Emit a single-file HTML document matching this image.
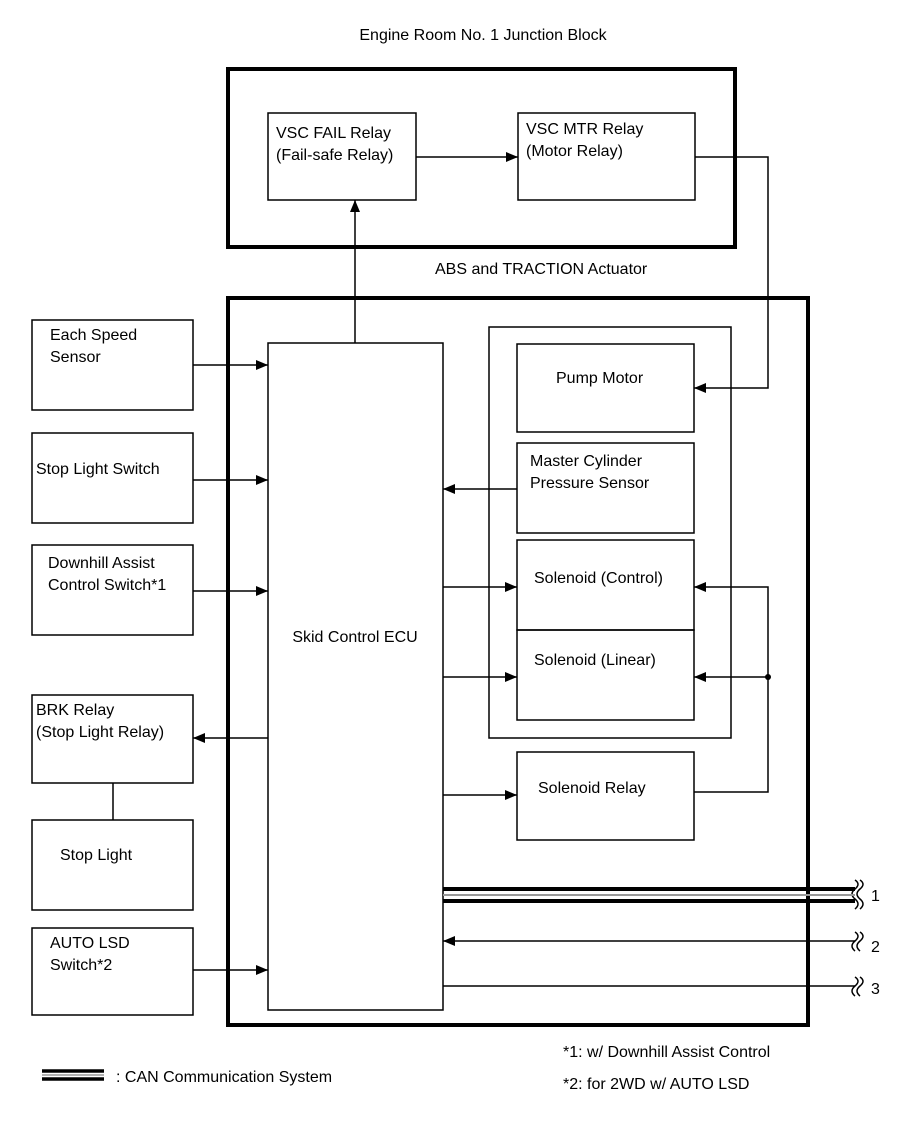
<!DOCTYPE html>
<html><head><style>body{margin:0;background:#fff}svg{display:block}text{font-family:"Liberation Sans",Arial,sans-serif;font-size:16px;fill:#000}</style></head><body>
<svg width="907" height="1122" viewBox="0 0 907 1122" xmlns="http://www.w3.org/2000/svg">
<defs><marker id="a" markerWidth="12" markerHeight="10" refX="12" refY="5" orient="auto" markerUnits="userSpaceOnUse"><path d="M0,0 L12,5 L0,10 z" fill="#000"/></marker></defs>
<g fill="none" stroke="#000">
<rect x="228" y="69" width="507" height="178" stroke-width="4"/>
<rect x="228" y="298" width="580" height="727" stroke-width="4"/>
<g stroke-width="1.5">
<rect x="268" y="113" width="148" height="87"/>
<rect x="518" y="113" width="177" height="87"/>
<rect x="268" y="343" width="175" height="667"/>
<rect x="489" y="327" width="242" height="411"/>
<rect x="517" y="344" width="177" height="88"/>
<rect x="517" y="443" width="177" height="90"/>
<rect x="517" y="540" width="177" height="90"/>
<rect x="517" y="630" width="177" height="90"/>
<rect x="517" y="752" width="177" height="88"/>
<rect x="32" y="320" width="161" height="90"/>
<rect x="32" y="433" width="161" height="90"/>
<rect x="32" y="545" width="161" height="90"/>
<rect x="32" y="695" width="161" height="88"/>
<rect x="32" y="820" width="161" height="90"/>
<rect x="32" y="928" width="161" height="87"/>
<line x1="416" y1="157" x2="518" y2="157" marker-end="url(#a)"/>
<line x1="355" y1="343" x2="355" y2="200" marker-end="url(#a)"/>
<polyline points="695,157 768,157 768,388 694,388" marker-end="url(#a)"/>
<line x1="193" y1="365" x2="268" y2="365" marker-end="url(#a)"/>
<line x1="193" y1="480" x2="268" y2="480" marker-end="url(#a)"/>
<line x1="193" y1="591" x2="268" y2="591" marker-end="url(#a)"/>
<line x1="268" y1="738" x2="193" y2="738" marker-end="url(#a)"/>
<line x1="113" y1="783" x2="113" y2="820"/>
<line x1="193" y1="970" x2="268" y2="970" marker-end="url(#a)"/>
<line x1="517" y1="489" x2="443" y2="489" marker-end="url(#a)"/>
<line x1="443" y1="587" x2="517" y2="587" marker-end="url(#a)"/>
<line x1="443" y1="677" x2="517" y2="677" marker-end="url(#a)"/>
<line x1="443" y1="795" x2="517" y2="795" marker-end="url(#a)"/>
<polyline points="694,792 768,792 768,587 694,587" marker-end="url(#a)"/>
<line x1="768" y1="677" x2="694" y2="677" marker-end="url(#a)"/>
<line x1="855" y1="941" x2="443" y2="941" marker-end="url(#a)"/>
<line x1="443" y1="986" x2="855" y2="986"/>
<path d="M855,880 q6,4 0,9 q-6,5 0,10 q6,5 0,10 M860,880 q6,4 0,9 q-6,5 0,10 q6,5 0,10"/>
<path d="M855,932 q6,4 0,9 q-6,5 0,10 M860,932 q6,4 0,9 q-6,5 0,10"/>
<path d="M855,977 q6,4 0,9 q-6,5 0,10 M860,977 q6,4 0,9 q-6,5 0,10"/>
</g>
<line x1="443" y1="889" x2="855" y2="889" stroke-width="4"/>
<line x1="443" y1="895" x2="855" y2="895" stroke="#999" stroke-width="2"/>
<line x1="443" y1="901" x2="855" y2="901" stroke-width="4"/>
<line x1="42" y1="1071" x2="104" y2="1071" stroke-width="3.5"/>
<line x1="42" y1="1075" x2="104" y2="1075" stroke="#999" stroke-width="1.5"/>
<line x1="42" y1="1079" x2="104" y2="1079" stroke-width="3.5"/>
</g>
<circle cx="768" cy="677" r="3" fill="#000"/>
<text x="483" y="40" text-anchor="middle">Engine Room No. 1 Junction Block</text>
<text x="276" y="138">VSC FAIL Relay</text><text x="276" y="160">(Fail-safe Relay)</text>
<text x="526" y="134">VSC MTR Relay</text><text x="526" y="156">(Motor Relay)</text>
<text x="435" y="274">ABS and TRACTION Actuator</text>
<text x="50" y="340">Each Speed</text><text x="50" y="362">Sensor</text>
<text x="36" y="474">Stop Light Switch</text>
<text x="48" y="568">Downhill Assist</text><text x="48" y="590">Control Switch*1</text>
<text x="36" y="715">BRK Relay</text><text x="36" y="737">(Stop Light Relay)</text>
<text x="60" y="860">Stop Light</text>
<text x="50" y="948">AUTO LSD</text><text x="50" y="970">Switch*2</text>
<text x="355" y="642" text-anchor="middle">Skid Control ECU</text>
<text x="556" y="383">Pump Motor</text>
<text x="530" y="466">Master Cylinder</text><text x="530" y="488">Pressure Sensor</text>
<text x="534" y="583">Solenoid (Control)</text>
<text x="534" y="665">Solenoid (Linear)</text>
<text x="538" y="793">Solenoid Relay</text>
<text x="871" y="901">1</text><text x="871" y="952">2</text><text x="871" y="994">3</text>
<text x="563" y="1057" font-size="15">*1: w/ Downhill Assist Control</text>
<text x="563" y="1089" font-size="15">*2: for 2WD w/ AUTO LSD</text>
<text x="116" y="1082">: CAN Communication System</text>
</svg>
</body></html>
